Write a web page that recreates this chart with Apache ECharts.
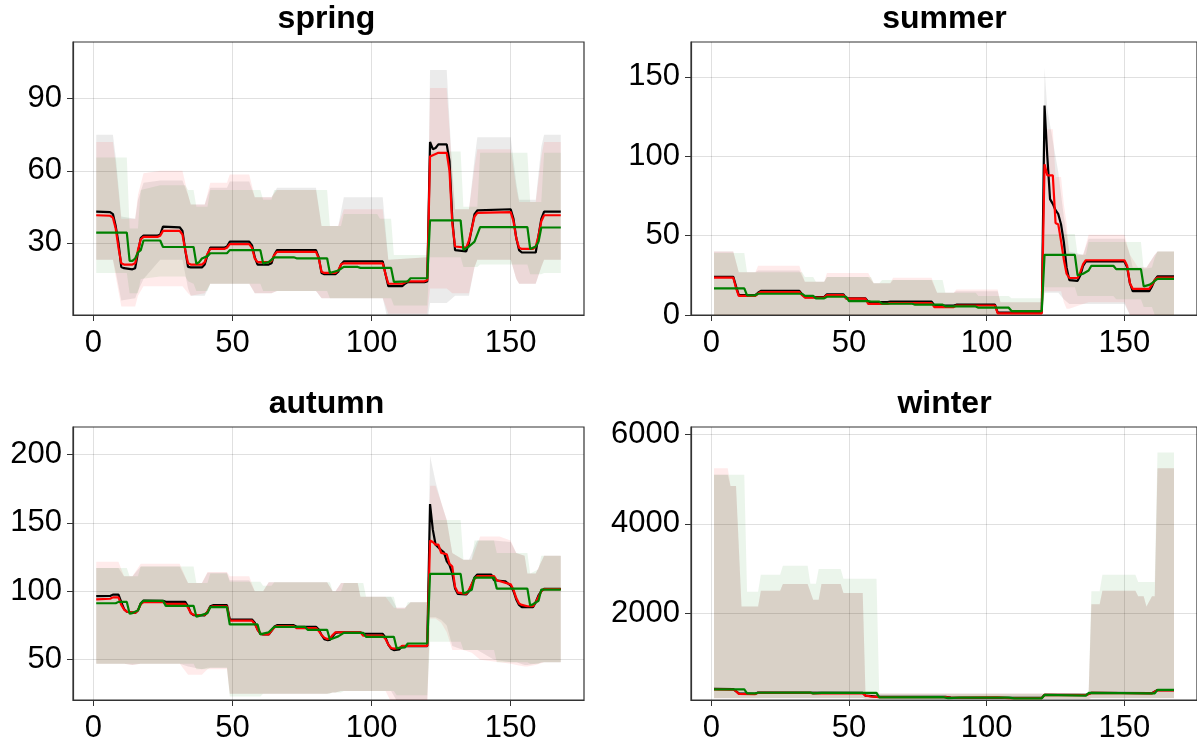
<!DOCTYPE html>
<html>
<head>
<meta charset="utf-8">
<script src="https://cdn.jsdelivr.net/npm/echarts@6/dist/echarts.min.js"></script>
<style>
html,body{margin:0;padding:0;background:#fff;}
#main{width:1197px;height:747px;}
</style>
</head>
<body>
<div id="main"></div>
<script>
// ---------- tick labels ----------
const xTicks = [0, 50, 100, 150];
const springYTicks = [30, 60, 90];
const summerYTicks = [0, 50, 100, 150];
const autumnYTicks = [50, 100, 150, 200];
const winterYTicks = [2000, 4000, 6000];

// ---------- spring ----------
const springBlack = [[1,43],[6,42.8],[7,42],[8,37],[9,30],[10,20],[11,19.5],[14,19],[15,19.5],[16,26],[17,32],[18,33],[23,33],[24,33.5],[25,36.8],[31,36.5],[32,35],[33,27],[34,20],[35,19.8],[39,19.8],[40,21],[41,25],[42,28],[47,28],[48,28.5],[49,30.5],[56,30.5],[57,29],[58,24],[59,21],[63,21],[64,21.5],[65,25],[66,27],[80,27],[81,24],[82,17.5],[83,17],[87,17],[88,18],[89,21],[90,22.3],[104,22.3],[105,17],[106,12],[111,12],[112,13],[113,13.7],[119,13.7],[120,14],[121,72],[122,69],[123,69.5],[124,71],[127,71],[128,64],[129,40],[130,27],[134,26.5],[135,30],[136,36],[137,42],[138,43.5],[150,44],[151,40],[152,32],[153,27],[154,26],[159,26],[160,33],[161,40],[162,43],[168,43]];
const springRed = [[1,41.5],[6,41.3],[7,40.5],[8,36],[9,28],[10,21.5],[11,21],[14,21],[15,21.5],[16,27],[17,31.5],[18,32.5],[23,32.5],[24,33],[25,35],[31,35],[32,33.5],[33,27],[34,21.5],[35,21],[39,21],[40,22],[41,25.5],[42,27.5],[47,27.5],[48,28],[49,29.5],[56,29.5],[57,28],[58,23.5],[59,22],[63,22],[64,22.5],[65,25],[66,26.3],[80,26.3],[81,23.5],[82,18],[83,17.5],[87,17.5],[88,18.5],[89,21],[90,21.5],[104,21.5],[105,17],[106,13],[111,13],[112,13.5],[113,14],[119,14],[120,14.5],[121,66],[122,66.5],[124,67.5],[127,67.5],[128,60],[129,38],[130,28.5],[134,28],[135,31],[136,36],[137,41],[138,42.5],[150,42.8],[151,39],[152,32],[153,28],[154,27.5],[158,27.5],[159,28.5],[160,33],[161,39],[162,41.5],[168,41.5]];
const springGreen = [[1,34.3],[12,34.3],[13,22.5],[14,22.5],[15,23.5],[16,26],[17,27],[18,31],[24,31],[25,28.3],[36,28.3],[37,21.3],[38,22],[39,23.5],[41,24.5],[42,25.7],[48,25.7],[49,27],[60,27],[61,21.5],[63,22],[65,24],[72,24],[73,23.6],[84,23.6],[85,17.5],[88,18.5],[90,20],[95,20],[96,19.6],[107,19.6],[108,13.8],[113,14],[114,15.3],[120,15.3],[121,39.4],[132,39.4],[133,27.1],[135,28.5],[137,30.5],[139,36.6],[156,36.6],[157,27.5],[159,28.5],[160,30.5],[161,36.4],[168,36.4]];
// bands: [hour, low, high]
const springBandBlack = [[1,23,75],[7,23,75],[8,18,66],[10,6,41],[15,7,40],[16,10,48],[18,15,55],[24,23,56],[32,23,56],[34,11,50],[35,8,46],[40,8,46],[42,13,53],[48,13,53],[49,13,55.5],[56,13,55.5],[58,9,49],[64,9,49],[66,10,53],[80,10,53],[82,7,37],[88,7,37],[90,7,49],[104,7,49],[106,-3,23],[120,-3,24],[121,5,102],[127,5,102],[129,7,60],[130,8,44],[135,8,44],[137,20,65],[138,23,74],[150,23,74],[152,15,55],[153,13,48],[159,13,48],[161,20,70],[162,23,75],[168,23,75]];
const springBandRed = [[1,23,72],[7,23,72],[8,16,63],[10,3.5,40],[15,3.5,40],[16,8,50],[18,12,59],[24,12,60],[32,12,60],[34,9,50],[35,8,46],[40,9,46],[42,13,55],[48,13,55],[49,13,58.5],[56,13,58.5],[58,9,49],[64,9,49],[66,10,52],[80,10,52],[82,7,37],[88,7,37],[90,7,44],[104,7,44],[106,0.5,23],[120,0.5,24],[121,11,94.5],[127,11,94.5],[129,9,60],[130,9,44],[135,9,44],[137,20,62],[138,23,69],[150,23,69],[152,15,53],[153,13,47],[159,13,47],[161,20,66],[162,23,72],[168,23,72]];
const springBandGreen = [[1,17.5,65.5],[12,17.5,65.5],[13,9,36],[16,9,36],[17,15,52],[24,16,54],[33,16,54],[34,14,52],[36,13,52],[37,10,45],[41,10,45],[42,13,52],[60,13,52],[61,10,48],[64,10,48],[65,10,52],[84,10,52],[85,7,37],[89,7,37],[90,7,42],[102,7,42],[103,7,40],[107,7,40],[108,4,25],[120,4,25],[121,24,68],[132,24,68],[133,20,45],[138,20,45],[139,21,67.5],[156,21,67.5],[157,17,47],[161,17,47],[162,17.5,67.5],[168,17.5,67.5]];

// ---------- summer ----------
const summerBlack = [[1,24],[8,24],[9,18],[10,12.5],[16,12.5],[17,14],[18,15.2],[32,15.2],[33,13],[34,11.3],[41,11.3],[42,13],[48,13],[49,10.5],[56,10.5],[57,8.2],[64,8.2],[65,8.5],[80,8.5],[81,6],[88,6],[89,6.5],[103,6.5],[104,1.5],[120,1.5],[121,132],[122,100],[123,73],[124,70],[125,66],[126,63.5],[127,57],[128,46],[129,30],[130,22],[133,21.5],[134,25],[135,31],[136,33.7],[150,33.7],[151,30],[152,20],[153,15],[159,15],[160,18],[161,22],[162,24.3],[168,24.3]];
const summerRed = [[1,23.5],[8,23.5],[9,17],[10,12],[16,12],[17,13.5],[18,14.5],[32,14.5],[33,12.5],[34,11],[41,11],[42,12.5],[48,12.5],[49,10.3],[56,10.3],[57,7],[64,7],[65,7.5],[80,7.5],[81,5],[88,5],[89,6],[103,6],[104,1],[120,1],[121,95],[122,88],[124,88],[125,58],[126,57],[127,46.5],[128,35],[129,26],[130,23.3],[133,23.3],[134,27],[135,32],[136,34.5],[150,34.5],[151,31],[152,20],[153,16.5],[159,16.5],[160,19],[161,22],[162,23.5],[168,23.5]];
const summerGreen = [[1,16.8],[12,16.8],[13,12.4],[16,12.4],[17,13.4],[33,13.4],[34,12],[37,12],[38,10.5],[41,10.5],[42,11.5],[49,11.5],[50,8.8],[57,8.8],[58,8.5],[61,8.5],[62,7.1],[73,7.1],[74,6.5],[84,6.5],[85,5.4],[96,5.4],[97,4.6],[108,4.6],[109,2.5],[120,2.5],[121,37.9],[132,37.9],[133,25],[135,26],[137,28],[138,31],[146,31],[147,28.9],[156,28.9],[157,18],[159,19],[160,20],[161,21.5],[162,22.8],[168,22.8]];
const summerBandBlack = [[1,0,40],[8,0,40],[10,0,27],[16,0,27],[17,0,28],[32,0,28],[34,0,21],[41,0,21],[42,0,24],[57,0,24],[59,0,20],[65,0,20],[66,0,22],[80,0,22],[82,0,14],[88,0,14],[89,0,15],[104,0,15],[105,0,8],[120,0,8],[121,14,156],[122,14,130],[124,14,110],[126,14,90],[128,10,62],[130,7,40],[135,7,38],[137,7,48],[150,7,48],[152,0,38],[153,-2,30],[158,-2,30],[161,0,38],[162,0,40],[168,0,40]];
const summerBandRed = [[1,0,40],[8,0,40],[10,0,27],[16,0,27],[17,0,31],[32,0,31],[34,0,21],[41,0,21],[42,0,26.5],[57,0,26.5],[59,0,20],[65,0,20],[66,0,23.5],[80,0,23.5],[82,0,14],[88,0,14],[89,0,16],[104,0,16],[105,0,8],[120,0,8],[121,15,117],[124,15,117],[125,15,87],[127,15,87],[128,8,70],[129,4,58],[130,4,38],[135,7,38],[137,8,50.5],[150,8,50.5],[152,0,38],[155,-6,30],[158,-6,30],[161,0,38],[162,0,40],[168,0,40]];
const summerBandGreen = [[1,0,39],[12,0,39],[13,0,27],[33,0,27],[34,0,24],[37,0,24],[38,0,21],[41,0,21],[42,0,24],[58,0,24],[59,0,20],[61,0,20],[62,0,22],[84,0,22],[85,0,14],[96,0,14],[97,0,12],[108,0,12],[109,0,10.5],[120,0,10.5],[121,17.5,51],[132,17.5,51],[133,12,38],[136,12,38],[137,12,46],[146,12,46],[147,10,46],[156,10,46],[157,5,29],[160,5,30],[161,0,36],[162,0,40],[168,0,40]];

// ---------- autumn ----------
const autumnBlack = [[1,96.4],[6,96.5],[7,97.5],[9,97.5],[10,92],[11,87],[12,85],[15,84.2],[16,86],[17,91],[18,93.2],[25,93],[26,92.2],[33,92.2],[34,89],[35,84],[36,82.5],[40,82.3],[41,85],[42,89],[43,89.8],[48,89.8],[49,79.3],[57,79.3],[58,77],[59,72],[60,69],[61,68.4],[63,68.4],[64,71],[65,74],[66,75.2],[72,75.2],[73,74],[80,74],[81,72],[82,68],[83,65],[84,64.3],[85,64.5],[86,67],[87,69.5],[88,69.9],[96,69.9],[97,68.9],[104,68.9],[105,66],[106,61],[107,58],[108,57],[110,57.5],[111,59.9],[120,59.9],[121,163.7],[122,145],[123,134],[125,130],[126,128.4],[127,122],[128,119],[129,113],[130,102],[131,98],[134,97.6],[135,100],[136,105],[137,110],[138,112.2],[143,112.2],[144,108],[148,107.3],[150,104],[151,100],[152,94],[153,90],[154,88.3],[158,88.3],[159,92],[160,97],[161,100],[162,101.7],[168,101.7]];
const autumnRed = [[1,94],[6,94.5],[7,95.5],[9,95.5],[10,90],[11,86.6],[12,85],[15,84.2],[16,86],[17,90.5],[18,92],[25,92],[26,90.8],[33,90.8],[34,88],[35,84],[36,82.8],[40,82.6],[41,85],[42,88.5],[43,89],[48,89],[49,78.5],[57,78.5],[58,76],[59,72],[60,69],[61,68.5],[63,68.5],[64,71],[65,73.5],[66,74.5],[72,74.5],[73,73],[80,73],[81,71],[82,68],[83,66],[84,65],[85,65.5],[86,68],[87,70],[96,70],[97,67.5],[104,67.5],[105,65],[106,61],[107,58.5],[108,58],[110,58.5],[111,60],[120,60],[121,137],[122,136],[123,134],[124,134],[125,128],[127,127],[128,120],[129,118],[130,103],[131,99],[134,98],[135,101],[136,105],[137,109],[138,111],[144,111],[145,108],[150,105],[151,101],[152,95],[153,91],[154,90],[156,89],[158,89],[159,92],[160,96],[161,100],[162,101.5],[168,101.5]];
const autumnGreen = [[1,91.2],[8,91.2],[9,92.2],[12,92.2],[13,83.5],[14,84],[16,86],[17,91],[18,93],[25,93],[26,89.3],[36,89.3],[37,81.3],[38,82],[41,84],[42,88.3],[48,88.3],[49,75.7],[59,75.7],[60,68.4],[61,69],[63,70],[65,74],[76,74],[77,71.8],[84,71.8],[85,64.7],[86,65.5],[88,67],[90,69.6],[97,69.6],[98,66.7],[108,66.7],[109,58.4],[110,58.6],[112,59],[113,61.8],[120,61.8],[121,112.6],[132,112.6],[133,98.3],[134,99],[136,101],[137,110],[144,110],[145,101.9],[156,101.9],[157,89.5],[158,90.5],[160,93],[161,101.2],[168,101.2]];
const autumnBandBlack = [[1,47,117],[9,47,117],[11,47,111],[14,46,111],[17,47,118],[31,47,118],[34,45,106],[39,43,106],[41,44,113.5],[48,44,113.5],[49,25,108],[56,25,108],[58,25,100],[61,25,100],[63,25,106.5],[84,25,106.5],[86,26,100],[87,26,100],[89,27,106],[95,27,106],[96,27,96],[107,27,96],[109,20,88],[112,20,88],[114,20,92],[120,20,92],[121,81,199],[123,81,180],[125,79,165],[127,75,152],[129,60,128],[133,57,123],[135,57,123],[138,57,137],[144,50,137],[150,48,136],[152,48,128],[155,46,126],[156,46,113],[159,47,113],[162,48,126],[168,48,126]];
const autumnBandRed = [[1,47,121.5],[9,47,121.5],[11,47,111],[14,46,111],[17,47,120],[31,47,120],[34,39,106],[39,39,106],[41,43,114],[48,43,114],[49,25,111],[56,25,111],[58,25,100],[61,25,100],[63,25,106.5],[84,25,106.5],[86,26,100],[87,26,100],[89,27,106],[95,27,106],[96,27,96],[105,27,96],[108,15,88],[112,15,88],[114,15,92],[120,15,92],[121,80,177],[123,80,177],[125,77,165],[127,70,152],[129,57,128],[133,57,123],[136,55,123],[139,50,140],[146,48,140],[150,47,137],[152,46,128],[155,45,126],[156,45,113],[159,46,113],[162,48,126],[168,48,126]];
const autumnBandGreen = [[1,47,117],[12,47,117],[13,47,111],[16,47,111],[17,47,118],[36,47,118],[37,43,106],[41,43,106],[42,44,113],[48,44,113],[49,23,107],[60,23,107],[61,25,104],[64,25,104],[65,25,106.5],[85,25,106.5],[86,26,100],[89,26,100],[90,27,106],[97,27,106],[98,27,96],[108,27,96],[109,24,87],[112,24,87],[113,24,92],[120,24,92],[121,63,152],[132,63,152],[133,57,123],[136,57,123],[137,57,137],[144,57,137],[145,48,128],[156,48,128],[157,47,113],[160,47,116],[161,48,126],[168,48,126]];

// ---------- winter ----------
const winterBlack = [[1,300],[8,295],[10,200],[16,190],[17,220],[55,210],[56,150],[61,120],[85,120],[87,105],[108,100],[120,100],[121,170],[136,165],[138,215],[160,205],[162,275],[168,275]];
const winterRed = [[1,290],[8,285],[9,250],[10,190],[16,185],[17,215],[36,210],[37,200],[55,205],[56,150],[58,130],[61,115],[85,115],[87,100],[104,110],[108,95],[120,95],[121,165],[136,160],[138,210],[160,200],[162,270],[168,270]];
const winterGreen = [[1,290],[12,290],[13,200],[16,200],[17,215],[36,220],[37,200],[40,210],[60,210],[61,110],[84,115],[86,95],[90,105],[108,105],[110,90],[120,90],[121,165],[136,150],[137,210],[160,200],[161,200],[162,280],[168,280]];
const winterBandBlack = [[1,90,5100],[6,90,5100],[7,90,4850],[9,90,4850],[11,90,2150],[17,90,2150],[18,90,2500],[25,90,2500],[26,90,2650],[35,90,2650],[37,90,2300],[39,90,2300],[40,90,2650],[47,90,2650],[48,90,2450],[55,90,2450],[56,75,200],[137,75,200],[138,90,2200],[141,90,2200],[142,90,2500],[154,90,2500],[155,90,2380],[157,90,2380],[158,90,2150],[160,90,2380],[161,90,2380],[162,90,5250],[168,90,5250]];
const winterBandRed = [[1,90,5250],[6,90,5250],[7,90,4850],[9,90,4850],[11,90,2150],[17,90,2150],[18,90,2500],[25,90,2500],[26,90,2650],[35,90,2650],[37,90,2300],[39,90,2300],[40,90,2650],[47,90,2650],[48,90,2450],[55,90,2450],[56,75,200],[137,75,200],[138,90,2200],[141,90,2200],[142,90,2500],[154,90,2500],[155,90,2380],[157,90,2380],[158,90,2150],[160,90,2380],[161,90,2380],[162,90,5250],[168,90,5250]];
const winterBandGreen = [[1,95,5100],[12,95,5100],[13,95,2480],[17,95,2480],[18,95,2860],[25,95,2860],[26,95,3060],[35,95,3060],[36,95,2660],[38,95,2660],[39,95,2990],[47,95,2990],[48,95,2770],[60,95,2770],[61,80,180],[137,80,180],[138,95,2490],[141,95,2490],[142,95,2860],[154,95,2860],[155,95,2700],[161,95,2700],[162,95,5600],[168,95,5600]];

// ---------- build ----------
const FONT = 'Liberation Sans';
const lineColors = ['#000000', '#ff0000', '#008000'];
const bandColors = ['rgba(0,0,0,0.08)', 'rgba(255,0,0,0.08)', 'rgba(0,128,0,0.08)'];

const panels = [
  {title:'spring', left:73, top:42, ymin:0, ymax:113.6, yTicks:springYTicks, lines:[springBlack, springRed, springGreen], bands:[springBandBlack, springBandRed, springBandGreen]},
  {title:'summer', left:691, top:42, ymin:0, ymax:172, yTicks:summerYTicks, lines:[summerBlack, summerRed, summerGreen], bands:[summerBandBlack, summerBandRed, summerBandGreen]},
  {title:'autumn', left:73, top:427, ymin:20.5, ymax:220, yTicks:autumnYTicks, lines:[autumnBlack, autumnRed, autumnGreen], bands:[autumnBandBlack, autumnBandRed, autumnBandGreen]},
  {title:'winter', left:691, top:427, ymin:52, ymax:6172, yTicks:winterYTicks, lines:[winterBlack, winterRed, winterGreen], bands:[winterBandBlack, winterBandRed, winterBandGreen]}
];
const W = 511, H = 273;

const grids = [], xAxes = [], yAxes = [], series = [], graphics = [];
const frameColor = '#333';
const gridLineColor = 'rgba(0,0,0,0.12)';

function bandRenderer(color) {
  return function (params, api) {
    if (params.dataIndexInside !== 0) return null;
    const n = params.dataInsideLength;
    const upper = [], lower = [];
    for (let k = 0; k < n; k++) {
      const x = api.value(0, k);
      upper.push(api.coord([x, api.value(2, k)]));
      lower.push(api.coord([x, api.value(1, k)]));
    }
    return {
      type: 'polygon',
      shape: { points: upper.concat(lower.reverse()) },
      style: { fill: color, stroke: null }
    };
  };
}

panels.forEach((p, i) => {
  grids.push({left:p.left, top:p.top, width:W, height:H, show:true, borderColor:frameColor, borderWidth:1.2, containLabel:false});
  xAxes.push({
    gridIndex:i, type:'value', min:-7.35, max:176.35,
    axisLine:{show:true, onZero:false, lineStyle:{color:frameColor, width:1.2}},
    axisTick:{show:true, length:6, customValues:xTicks, lineStyle:{color:frameColor}},
    axisLabel:{customValues:xTicks, fontSize:31, fontFamily:FONT, color:'#000', margin:13, formatter:(v) => String(v)},
    splitLine:{show:true, lineStyle:{color:gridLineColor, width:1}}
  });
  yAxes.push({
    gridIndex:i, type:'value', min:p.ymin, max:p.ymax,
    axisLine:{show:true, onZero:false, lineStyle:{color:frameColor, width:1.2}},
    axisTick:{show:true, length:6, customValues:p.yTicks, lineStyle:{color:frameColor}},
    axisLabel:{customValues:p.yTicks, fontSize:31, fontFamily:FONT, color:'#000', margin:11, formatter:(v) => String(v)},
    splitLine:{show:true, lineStyle:{color:gridLineColor, width:1}}
  });
  p.bands.forEach((b, j) => {
    series.push({
      type:'custom', xAxisIndex:i, yAxisIndex:i, data:b, clip:true, silent:true,
      encode:{x:0, y:[1, 2]}, renderItem:bandRenderer(bandColors[j]), z:1
    });
  });
  p.lines.forEach((l, j) => {
    series.push({
      type:'line', xAxisIndex:i, yAxisIndex:i, data:l, symbol:'none', silent:true,
      lineStyle:{color:lineColors[j], width:2.2}, z:3 + j
    });
  });
  graphics.push({
    type:'text', x:p.left + W/2 - 2, y:p.top - 23,
    style:{text:p.title, font:'bold 32px "' + FONT + '"', fill:'#000', align:'center', verticalAlign:'middle'}
  });
});

const chart = echarts.init(document.getElementById('main'), null, {renderer:'canvas'});
chart.setOption({
  animation:false,
  backgroundColor:'#fff',
  grid:grids, xAxis:xAxes, yAxis:yAxes, series:series, graphic:graphics
});
</script>
</body>
</html>
